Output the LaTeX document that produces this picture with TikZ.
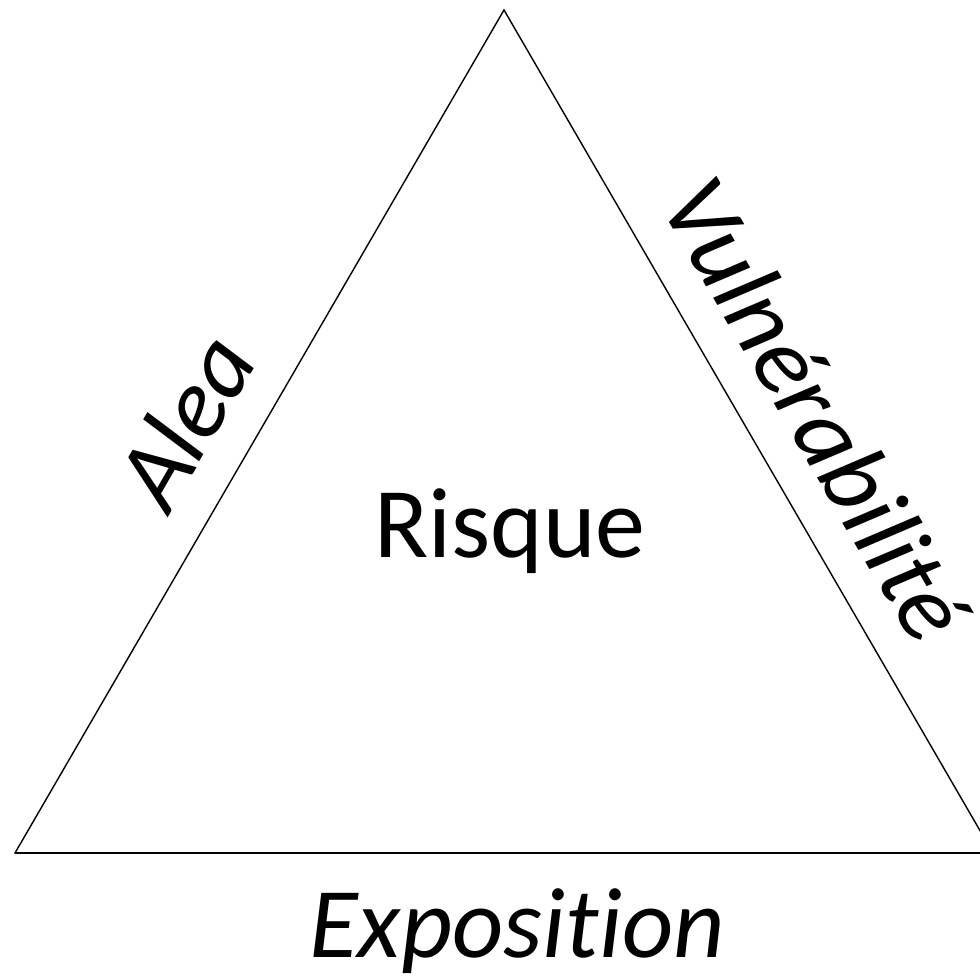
\documentclass[tikz,border=0pt]{standalone}
\usepackage{fontspec}
\setmainfont{Carlito}[Ligatures={NoCommon}, RawFeature={-liga}]
\begin{document}
\begin{tikzpicture}[x=1pt,y=1pt,
  edge/.style={line width=1.4pt, line join=miter},
  label/.style={inner sep=0pt, font=\fontsize{100}{120}\selectfont},
  sidelabel/.style={label, font=\fontsize{100}{120}\selectfont\itshape}]
\useasboundingbox (0,0) rectangle (980,977);
\clip (0,0) rectangle (980,977);
\coordinate (top) at (504,967);
\coordinate (bl) at (15,124);
\coordinate (br) at (993,124);
\draw[edge] (top) -- (bl) -- (br) -- cycle;
\draw[line width=2pt] (bl) -- (br);
\node[label, anchor=base] (risque) at (510,419) {Risque};
\node[sidelabel, anchor=base] (expo) at (517,19) {Exposition};
\node[sidelabel, anchor=base, rotate=60] (alea) at (214,539) {Alea};
\node[sidelabel, anchor=base, rotate=-60] (vuln) at (787,551) {Vulnérabilité};
\end{tikzpicture}
\end{document}
